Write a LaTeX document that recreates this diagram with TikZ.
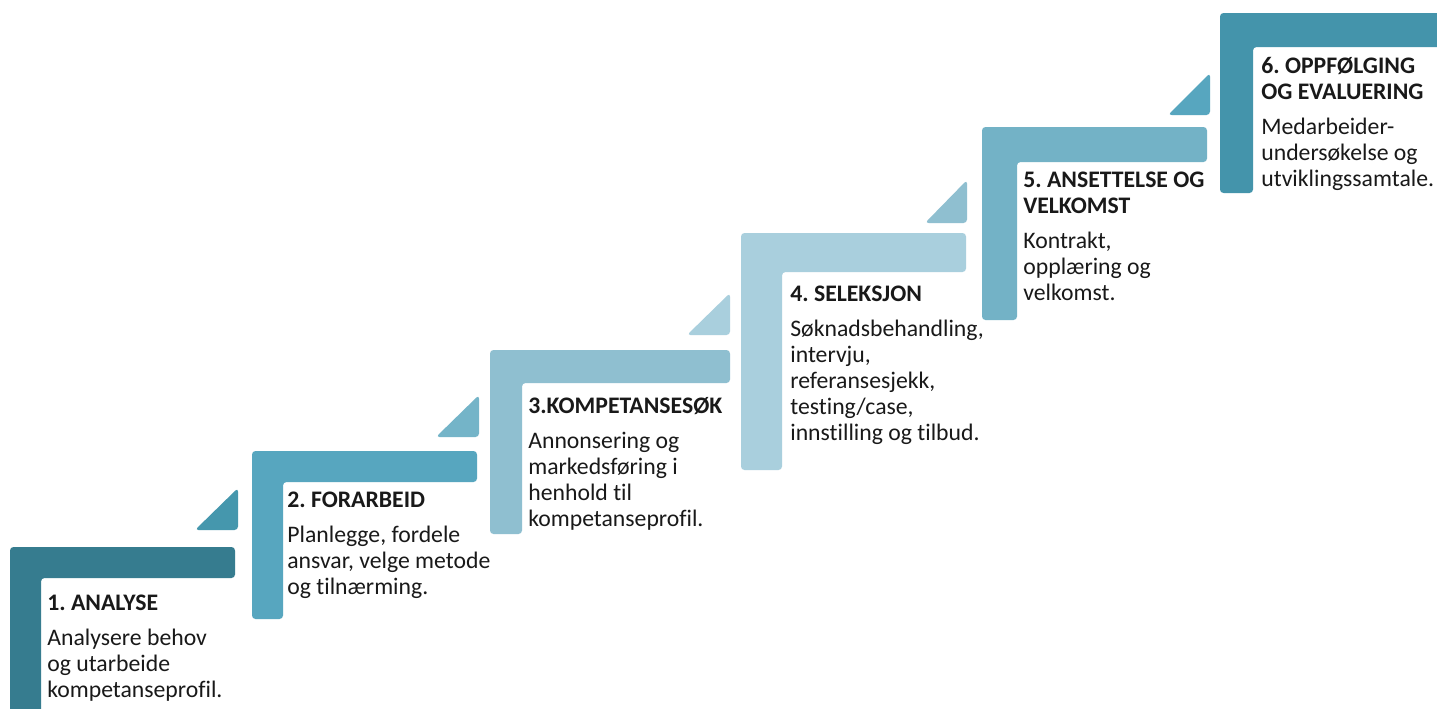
\documentclass[tikz,border=0pt]{standalone}
\usepackage{fontspec}
\setmainfont{Carlito}[Ligatures={NoCommon}]
\usepackage{tikz}
\frenchspacing
\definecolor{bar1}{HTML}{367C8F}
\definecolor{bar2}{HTML}{57A6BF}
\definecolor{bar3}{HTML}{8FBFD0}
\definecolor{bar4}{HTML}{A9CFDD}
\definecolor{bar5}{HTML}{73B2C6}
\definecolor{bar6}{HTML}{4494AB}
\definecolor{tri1}{HTML}{4597AD}
\definecolor{tri2}{HTML}{74B4C8}
\definecolor{tri3}{HTML}{A9CFDD}
\definecolor{tri4}{HTML}{8FBFD0}
\definecolor{tri5}{HTML}{57A6BF}

\tikzset{
  stepbox/.style={anchor=north west, inner sep=0pt, align=left,
    font=\fontsize{13.5}{14.8}\selectfont, text=black!90},
  stepbar/.style={rounded corners=2pt}
}

\begin{document}
\begin{tikzpicture}[x=0.02cm, y=-0.02cm]
\clip (0,0) rectangle (1437,708);
\fill[white] (0,0) rectangle (1437,708);
% stairs
\fill[bar1, stepbar] (10,547) -- (235,547) -- (235,578) -- (41,578) -- (41,720) -- (10,720) -- cycle;
\fill[tri1, stepbar] (195,530) -- (238,530) -- (238,488) -- cycle;
\fill[bar2, stepbar] (252,451) -- (477,451) -- (477,482) -- (283,482) -- (283,619) -- (252,619) -- cycle;
\fill[tri2, stepbar] (436,437) -- (479,437) -- (479,395) -- cycle;
\fill[bar3, stepbar] (490,350) -- (730,350) -- (730,383) -- (522,383) -- (522,534) -- (490,534) -- cycle;
\fill[tri3, stepbar] (687,335) -- (730,335) -- (730,293) -- cycle;
\fill[bar4, stepbar] (741,233) -- (966,233) -- (966,272) -- (782,272) -- (782,470) -- (741,470) -- cycle;
\fill[tri4, stepbar] (925,223) -- (967,223) -- (967,180) -- cycle;
\fill[bar5, stepbar] (982,127) -- (1207,127) -- (1207,162) -- (1017,162) -- (1017,320) -- (982,320) -- cycle;
\fill[tri5, stepbar] (1168,115) -- (1210,115) -- (1210,73) -- cycle;
\fill[bar6, stepbar] (1220,13) -- (1445,13) -- (1445,47) -- (1253,47) -- (1253,193) -- (1220,193) -- cycle;
% texts
\node[stepbox] (s1) at (47,595) {\textbf{1. ANALYSE}\\[5pt]Analysere behov\\og utarbeide\\kompetanseprofil.};
\node[stepbox] (s2) at (287,492) {\textbf{2. FORARBEID}\\[5pt]Planlegge, fordele\\ansvar, velge metode\\og tilnærming.};
\node[stepbox] (s3) at (528,397) {\textbf{3.KOMPETANSESØK}\\[5pt]Annonsering og\\markedsføring i\\henhold til\\kompetanseprofil.};
\node[stepbox] (s4) at (790,286) {\textbf{4. SELEKSJON}\\[5pt]Søknadsbehandling,\\intervju,\\referansesjekk,\\testing/case,\\innstilling og tilbud.};
\node[stepbox] (s5) at (1023,172) {\textbf{5. ANSETTELSE OG}\\\textbf{VELKOMST}\\[5pt]Kontrakt,\\opplæring og\\velkomst.};
\node[stepbox] (s6) at (1261,57) {\textbf{6. OPPFØLGING}\\\textbf{OG EVALUERING}\\[5pt]Medarbeider-\\undersøkelse og\\utviklingssamtale.};
\end{tikzpicture}
\end{document}
